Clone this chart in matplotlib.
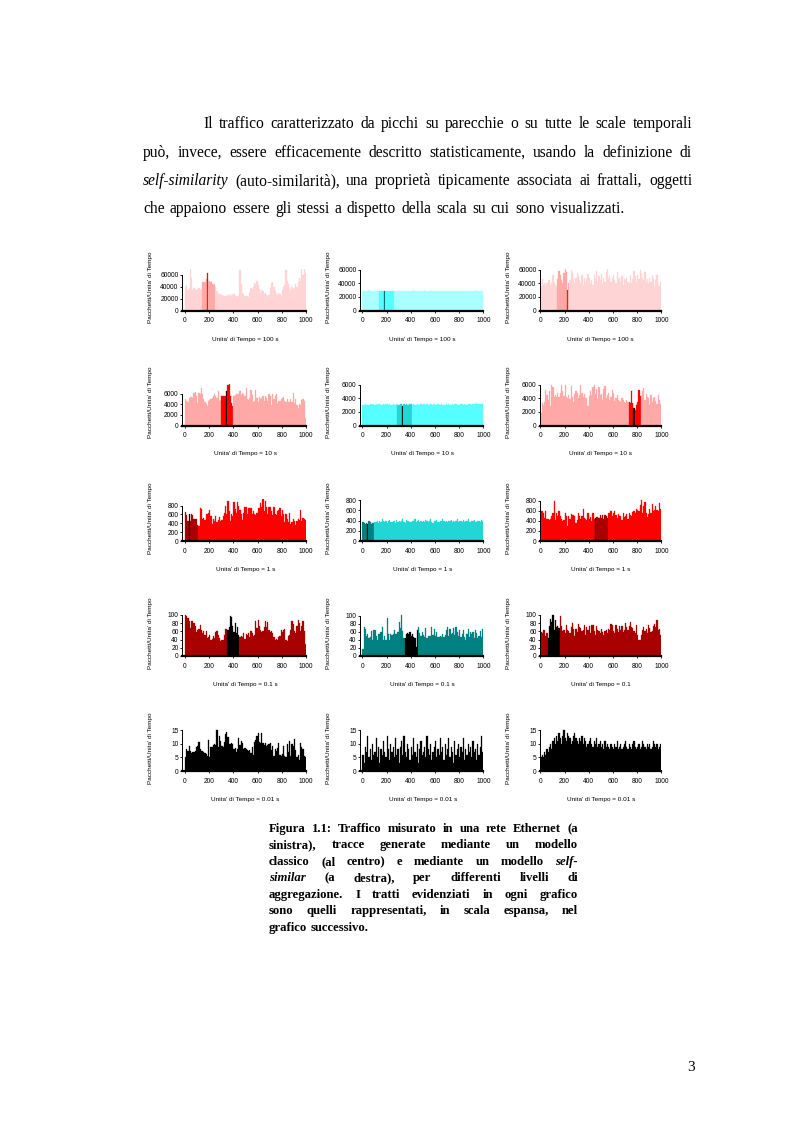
import matplotlib.pyplot as plt
import numpy as np

W, H = 793, 1123

# ---------------- dati ----------------
# riga 1: scala 100 s (valori in migliaia di pacchetti)
eth_100 = [40, 42, 35, 38, 70, 55, 35, 37, 34, 36,
           35, 37, 34, 36, 48, 48, 48, 52, 62, 50,
           50, 47, 45, 42, 44, 40, 32, 28, 28, 27,
           26, 25, 25, 25, 24, 26, 24, 28, 25, 26,
           27, 25, 24, 23, 25, 68, 45, 30, 28, 25,
           24, 25, 23, 30, 38, 36, 40, 46, 44, 50,
           42, 36, 30, 35, 32, 28, 30, 26, 25, 26,
           38, 46, 48, 40, 32, 28, 26, 30, 28, 25,
           35, 40, 42, 68, 50, 45, 38, 35, 40, 36,
           38, 45, 40, 48, 55, 50, 70, 60, 70, 63]
cls_100 = [29, 29, 29, 29, 29, 29.5, 29, 29, 29, 29,
           29, 29, 29.5, 29, 29, 29, 29, 29, 29, 29,
           29, 29, 29, 29, 29, 29, 29, 29, 29, 29,
           29, 29, 29, 29, 29, 29, 29, 29, 29, 29,
           29, 29, 30, 29, 29, 29, 29, 29, 29, 29,
           29, 30, 29, 29, 29, 29, 30, 29, 29, 29,
           29, 29, 29, 29, 29, 29, 29, 29, 29, 29,
           29, 29, 29, 29, 29, 29, 29, 29, 29, 29,
           29, 29, 29, 29, 29, 29, 29, 29, 29, 29,
           29, 29, 29, 29.5, 29, 29, 29, 29, 29, 29]
ss_100 = [36, 46, 38, 40, 38, 40, 44, 44, 38, 40,
          52, 40, 38, 35, 46, 58, 52, 45, 40, 55,
          62, 57, 30, 40, 44, 60, 55, 46, 40, 47,
          55, 50, 44, 40, 52, 38, 48, 42, 46, 54,
          48, 40, 44, 38, 52, 46, 58, 42, 50, 44,
          54, 40, 48, 42, 56, 62, 46, 50, 42, 48,
          52, 44, 40, 56, 46, 48, 42, 50, 38, 46,
          44, 48, 42, 40, 52, 40, 46, 58, 50, 42,
          52, 46, 60, 54, 48, 44, 56, 42, 46, 40,
          48, 42, 50, 46, 34, 44, 52, 38, 36, 42]

# riga 2: scala 10 s
eth_10 = [5000, 4600, 4400, 5200, 5300, 5400, 5100, 6100, 6300, 5500,
          4200, 6200, 6000, 7100, 6000, 5000, 4500, 4000, 3700, 4700,
          4800, 5000, 5200, 5600, 6000, 5500, 5200, 6500, 4600, 4800,
          5500, 5600, 5500, 5600, 6500, 7600, 7900, 5600, 4300, 3700,
          5500, 5800, 6000, 6000, 5900, 6500, 5800, 6200, 5900, 5600,
          7100, 5000, 4800, 5200, 6700, 5800, 4500, 4600, 6600, 5200,
          4400, 5300, 4900, 5200, 5500, 4600, 5500, 5200, 4700, 6000,
          5500, 3800, 6000, 5000, 5600, 6000, 4200, 4700, 4700, 5000,
          5200, 5300, 4600, 4500, 5000, 4400, 4400, 4900, 4400, 6200,
          4200, 4900, 3800, 3200, 4000, 3800, 4800, 4900, 4600, 1500]
cls_10 = [3000, 3050, 3100, 3000, 3050, 3000, 3100, 3150, 3050, 3100,
          3000, 3100, 3050, 3150, 3100, 3050, 3000, 3100, 3050, 3150,
          3100, 3050, 3100, 3000, 3050, 3100, 3000, 3050, 3100, 3000,
          3050, 3100, 3150, 2800, 3100, 3050, 3100, 3000, 3050, 3100,
          3150, 3050, 3100, 3000, 3050, 3100, 3050, 3000, 3100, 3050,
          3150, 3100, 3050, 3100, 3000, 3050, 3100, 3150, 3050, 3100,
          3000, 3050, 3100, 3000, 3050, 3100, 3050, 3000, 3050, 3100,
          3050, 3100, 3000, 3050, 3100, 3050, 3150, 3100, 3050, 3000,
          3050, 3100, 3150, 3050, 3100, 3000, 3050, 3100, 3150, 3100,
          3050, 3100, 3150, 3200, 3300, 3150, 3100, 3200, 3150, 3100]
ss_10 = [1900, 3300, 3000, 3500, 5200, 4500, 3800, 5000, 2900, 6000,
         5600, 4200, 4400, 4200, 4800, 4200, 4700, 6000, 5000, 4300,
         5900, 4200, 4100, 4400, 3900, 5800, 4200, 3400, 4600, 5000,
         4800, 4000, 4500, 5900, 4800, 4200, 4600, 4000, 4000, 2900,
         4300, 5000, 4500, 5600, 6000, 4600, 5400, 3900, 5600, 4400,
         4600, 3800, 5400, 5800, 4000, 4400, 4700, 3800, 4200, 5200,
         4800, 3600, 4000, 4500, 3800, 3600, 3400, 4000, 3800, 3500,
         3300, 3800, 3500, 3400, 3300, 5100, 3300, 2600, 2300, 3000,
         3400, 5200, 4300, 4300, 5000, 5500, 3800, 4600, 4200, 4000,
         3000, 4500, 3400, 4000, 4200, 3600, 3200, 4400, 3800, 3200]

# riga 3: scala 1 s
eth_1 = [650, 580, 450, 600, 450, 600, 580, 500, 500, 500,
         360, 350, 740, 720, 500, 520, 480, 610, 600, 640,
         700, 560, 380, 500, 460, 560, 440, 480, 540, 460,
         480, 560, 640, 800, 620, 900, 680, 460, 600, 560,
         880, 720, 640, 880, 800, 700, 600, 480, 640, 780,
         760, 600, 740, 740, 740, 620, 680, 600, 580, 640,
         740, 740, 860, 760, 940, 680, 900, 760, 620, 780,
         780, 680, 580, 760, 620, 580, 680, 700, 740, 560,
         700, 620, 420, 600, 500, 440, 640, 380, 420, 500,
         460, 360, 460, 500, 480, 700, 460, 520, 500, 480]
cls_1 = [380, 360, 340, 360, 330, 390, 370, 340, 360, 350,
         380, 370, 400, 360, 390, 380, 420, 390, 370, 400,
         360, 390, 410, 380, 370, 400, 390, 360, 410, 380,
         390, 370, 400, 420, 380, 360, 410, 390, 400, 370,
         380, 400, 390, 420, 370, 390, 410, 380, 400, 370,
         390, 380, 410, 400, 370, 390, 420, 380, 360, 400,
         390, 410, 380, 370, 400, 390, 420, 400, 380, 390,
         370, 400, 390, 410, 380, 400, 370, 390, 420, 380,
         400, 390, 370, 410, 380, 400, 390, 420, 380, 370,
         400, 390, 410, 380, 370, 400, 390, 380, 410, 390]
ss_1 = [600, 600, 560, 450, 600, 440, 430, 420, 430, 500,
        560, 800, 420, 560, 500, 600, 500, 440, 400, 420,
        560, 500, 300, 500, 440, 540, 520, 520, 500, 360,
        420, 560, 500, 440, 500, 640, 460, 440, 420, 560,
        440, 480, 400, 560, 440, 460, 480, 480, 460, 520,
        460, 520, 440, 520, 500, 460, 560, 560, 600, 500,
        560, 600, 520, 460, 540, 500, 500, 420, 560, 480,
        500, 540, 440, 560, 520, 500, 580, 600, 560, 640,
        620, 600, 720, 820, 560, 700, 780, 560, 480, 540,
        640, 560, 740, 600, 620, 700, 620, 600, 760, 640]

# riga 4: scala 0.1 s
eth_01 = [100, 98, 92, 85, 68, 86, 84, 80, 72, 58,
          62, 66, 76, 62, 56, 60, 52, 60, 44, 46,
          52, 40, 42, 48, 44, 58, 60, 50, 44, 36,
          40, 38, 50, 66, 66, 64, 70, 97, 94, 72,
          58, 80, 56, 70, 52, 46, 48, 46, 56, 42,
          54, 52, 56, 46, 60, 56, 48, 52, 84, 68,
          88, 74, 64, 58, 60, 70, 86, 70, 82, 64,
          58, 60, 56, 46, 40, 42, 38, 46, 48, 62,
          58, 62, 66, 40, 36, 48, 52, 64, 86, 78,
          60, 56, 72, 88, 80, 60, 74, 86, 60, 30]
cls_01 = [18, 72, 68, 50, 56, 44, 48, 62, 40, 64,
          66, 50, 40, 56, 56, 60, 72, 40, 50, 40,
          94, 56, 40, 56, 52, 56, 66, 56, 56, 60,
          84, 70, 102, 62, 46, 44, 56, 58, 56, 60,
          50, 56, 48, 46, 22, 66, 72, 58, 50, 60,
          52, 48, 70, 46, 50, 50, 50, 72, 52, 68,
          50, 60, 48, 48, 50, 48, 56, 48, 52, 66,
          72, 50, 68, 56, 58, 70, 52, 72, 60, 50,
          64, 48, 56, 66, 48, 40, 56, 68, 48, 60,
          54, 60, 46, 66, 58, 46, 50, 62, 48, 68]
ss_01 = [58, 56, 64, 62, 48, 56, 44, 74, 90, 82,
         100, 64, 88, 70, 72, 68, 96, 72, 60, 62,
         56, 76, 62, 60, 56, 70, 80, 66, 48, 66,
         58, 78, 70, 68, 60, 64, 76, 52, 70, 62,
         74, 56, 76, 76, 60, 52, 72, 62, 60, 56,
         66, 58, 52, 60, 64, 56, 66, 62, 78, 76,
         60, 56, 76, 66, 58, 74, 62, 72, 58, 62,
         80, 70, 62, 74, 82, 70, 68, 60, 56, 76,
         52, 40, 38, 50, 62, 70, 60, 66, 56, 76,
         68, 58, 60, 74, 78, 70, 88, 64, 66, 52]

# riga 5: scala 0.01 s
eth_001 = [5.2, 8.2, 7.2, 9.3, 7.4, 6.8, 7.0, 7.0, 7.4, 9.0,
           9.4, 10.8, 8.0, 7.4, 7.2, 7.0, 6.8, 6.2, 5.4, 11.4,
           5.2, 8.8, 9.0, 9.5, 10.0, 9.6, 15.0, 9.0, 12.8, 11.0,
           9.4, 9.0, 10.6, 13.5, 14.4, 12.6, 10.0, 9.8, 10.4, 9.8,
           8.0, 8.6, 7.0, 8.2, 12.0, 9.6, 11.0, 10.2, 8.0, 8.4,
           8.2, 7.6, 7.2, 7.8, 6.8, 9.0, 6.0, 10.6, 11.6, 12.8,
           14.0, 10.6, 10.2, 14.2, 10.4, 9.6, 10.4, 9.2, 9.6, 9.8,
           10.2, 7.6, 9.2, 5.6, 8.0, 7.2, 8.6, 10.2, 5.8, 5.4,
           6.2, 9.2, 5.4, 5.0, 9.8, 7.0, 11.0, 5.4, 10.0, 9.2,
           11.8, 7.8, 5.2, 6.0, 4.2, 10.4, 9.0, 8.0, 5.6, 5.2]
cls_001 = [6, 3, 9, 7, 13, 5, 8, 4, 10, 6,
           7, 12, 5, 9, 3, 8, 6, 11, 7, 5,
           13, 8, 4, 10, 7, 9, 5, 12, 6, 8,
           3, 9, 11, 6, 13, 7, 5, 10, 8, 4,
           9, 6, 12, 7, 5, 10, 3, 8, 11, 6,
           7, 9, 5, 13, 8, 6, 10, 4, 7, 9,
           11, 5, 8, 6, 12, 7, 9, 4, 10, 6,
           8, 12, 5, 9, 7, 3, 11, 6, 8, 10,
           5, 9, 7, 12, 4, 8, 6, 10, 7, 9,
           5, 11, 7, 8, 4, 10, 6, 9, 13, 7]
ss_001 = [5, 6, 5, 7, 6, 8, 7, 9, 10, 8,
          11, 12, 10, 13, 11, 14, 12, 10, 13, 15,
          12, 11, 14, 13, 12, 10, 11, 13, 14, 12,
          11, 10, 12, 11, 13, 10, 12, 11, 9, 10,
          11, 12, 10, 9, 11, 10, 12, 9, 10, 11,
          9, 10, 8, 11, 9, 10, 9, 8, 10, 9,
          8, 10, 9, 11, 8, 9, 10, 8, 9, 10,
          11, 9, 8, 10, 9, 8, 10, 11, 9, 8,
          9, 10, 8, 9, 11, 10, 9, 8, 10, 9,
          10, 8, 9, 11, 10, 9, 10, 8, 9, 10]

ytick_rows = [[0, 20000, 40000, 60000], [0, 2000, 4000, 6000],
              [0, 200, 400, 600, 800], [0, 20, 40, 60, 80, 100], [0, 5, 10, 15]]
xticks = [0, 200, 400, 600, 800, 1000]
xlabels = [["Unita' di Tempo = 100 s"] * 3,
           ["Unita' di Tempo = 10 s"] * 3,
           ["Unita' di Tempo = 1 s"] * 3,
           ["Unita' di Tempo = 0.1 s", "Unita' di Tempo = 0.1 s", "Unita' di Tempo = 0.1"],
           ["Unita' di Tempo = 0.01 s"] * 3]
ylabel = "Pacchetti/Unita' di Tempo"

PINK1, PINK2, RED, DRED, BLK = '#FFD4D4', '#FFA8A8', '#FF0000', '#A80000', '#000000'
CY1, CY2, CY3, TEAL, DTEAL = '#AAFFFF', '#55FFFF', '#22D6D6', '#008080', '#005A5A'

# (valori, fattore, base, evidenziato, (i0, i1), colore barra, indice barra, ylim)
panels = [
    [(eth_100, 1000, PINK1, PINK2, (14, 24), RED, 18, 70000),
     (cls_100, 1000, CY1, CY2, (14, 25), DTEAL, 18, 61500),
     (ss_100, 1000, PINK1, PINK2, (14, 23), RED, 22, 61500)],
    [(eth_10, 1, PINK2, RED, (30, 39), BLK, 34, 7900),
     (cls_10, 1, CY2, CY3, (29, 40), BLK, 33, 6150),
     (ss_10, 1, PINK2, RED, (73, 82), BLK, 77, 6150)],
    [(eth_1, 1, RED, DRED, (0, 10), BLK, 3, 950),
     (cls_1, 1, CY3, TEAL, (0, 9), BLK, 4, 820),
     (ss_1, 1, RED, DRED, (45, 55), BLK, 45, 835)],
    [(eth_01, 1, DRED, BLK, (35, 44), None, None, 102),
     (cls_01, 1, TEAL, BLK, (35, 45), None, None, 105),
     (ss_01, 1, DRED, BLK, (6, 15), None, None, 102)],
    [(eth_001, 1, BLK, None, None, None, None, 15.5),
     (cls_001, 1, BLK, None, None, None, None, 15.5),
     (ss_001, 1, BLK, None, None, None, None, 15.5)],
]

par_lines = [
    "Il traffico caratterizzato da picchi su parecchie o su tutte le scale temporali",
    "può, invece, essere efficacemente descritto statisticamente, usando la definizione di",
    "_self-similarity (auto-similarità), una proprietà tipicamente associata ai frattali, oggetti",
    "che appaiono essere gli stessi a dispetto della scala su cui sono visualizzati.",
]
cap_lines = [
    "Figura 1.1: Traffico misurato in una rete Ethernet (a",
    "sinistra), tracce generate mediante un modello",
    "classico (al centro) e mediante un modello _self-",
    "_similar (a destra), per differenti livelli di",
    "aggregazione. I tratti evidenziati in ogni grafico",
    "sono quelli rappresentati, in scala espansa, nel",
    "grafico successivo.",
]

plt.rcParams['font.family'] = ['Liberation Sans', 'DejaVu Sans']

fig = plt.figure(figsize=(W / 100, H / 100), dpi=100)
fig.patch.set_facecolor('white')
renderer = fig.canvas.get_renderer()


def put_line(line, x0, x1, base, size, weight='normal', justify=True, space=0.25):
    arts = []
    for w in line.split(' '):
        st = 'normal'
        if w.startswith('_'):
            w, st = w[1:], 'italic'
        arts.append(fig.text(0, 1 - base / H, w, fontsize=size, family='Liberation Serif',
                             weight=weight, style=st, va='baseline', ha='left'))
    widths = [t.get_window_extent(renderer).width for t in arts]
    if justify and len(arts) > 1:
        gap = (x1 - x0 - sum(widths)) / (len(arts) - 1)
    else:
        gap = size * 100 / 72 * space
    x = x0
    for t, wd in zip(arts, widths):
        t.set_x(x / W)
        x += wd + gap


# paragrafo
par_base = [128, 157, 185, 213]
PS = 11.2
put_line(par_lines[0], 203, 692, par_base[0], PS)
put_line(par_lines[1], 143, 692, par_base[1], PS)
put_line(par_lines[2], 143, 692, par_base[2], PS)
put_line(par_lines[3], 143, 692, par_base[3], PS, justify=False, space=0.33)

# didascalia
for i, ln in enumerate(cap_lines):
    put_line(ln, 269, 578, 832 + i * 16.45, 9.2, weight='bold', justify=(i < len(cap_lines) - 1))

fig.text(691 / W, 1 - 1071 / H, "3", fontsize=11, family='Liberation Serif', ha='center', va='baseline')

# griglia di grafici
col_axis = [181.5, 359.5, 539.5]
col_x0 = [185.0, 362.3, 540.3]
col_x1 = [306.0, 483.3, 661.3]
row_base = [310.5, 425.5, 541.0, 656.0, 771.0]
AX_H = 42.0
x = np.arange(100) * 10

for r in range(5):
    for c in range(3):
        vals, fac, base, hl, rng, dcol, didx, ytop = panels[r][c]
        h = np.array(vals, dtype=float) * fac
        cols = [base] * 100
        if rng is not None:
            for i in range(rng[0], rng[1] + 1):
                cols[i] = hl
        if didx is not None:
            cols[didx] = dcol
        ax = fig.add_axes([col_axis[c] / W, 1 - row_base[r] / H,
                           (col_x1[c] - col_axis[c]) / W, AX_H / H])
        ppu = (col_x1[c] - col_x0[c]) / 1000
        ax.bar(x, h, width=10, align='edge', color=cols, edgecolor=cols, linewidth=0.2)
        ax.set_xlim(-(col_x0[c] - col_axis[c]) / ppu, 1000)
        ax.set_ylim(0, ytop)
        yt = ytick_rows[r]
        ax.set_yticks(yt)
        ax.set_yticklabels([str(v) for v in yt])
        ax.set_xticks(xticks)
        ax.set_xticklabels([str(v) for v in xticks])
        for s in ['top', 'right']:
            ax.spines[s].set_visible(False)
        ax.spines['left'].set_bounds(0, yt[-1])
        ax.spines['left'].set_linewidth(0.7)
        ax.spines['bottom'].set_linewidth(1.6)
        ax.tick_params(axis='y', length=1.5, width=0.6, labelsize=4.8, pad=0.6)
        ax.tick_params(axis='x', length=1.5, width=0.6, labelsize=4.8, pad=3.2)
        ax.patch.set_alpha(0)
        xc = (col_x0[c] + col_x1[c]) / 2
        fig.text(xc / W, 1 - (row_base[r] + 28.5) / H, xlabels[r][c], fontsize=4.6,
                 ha='center', va='center')
        fig.text((col_axis[c] - 31) / W, 1 - (row_base[r] - 23) / H, ylabel, fontsize=4.6,
                 rotation=90, ha='center', va='center')

fig.savefig('out.png', dpi=100, facecolor='white')
